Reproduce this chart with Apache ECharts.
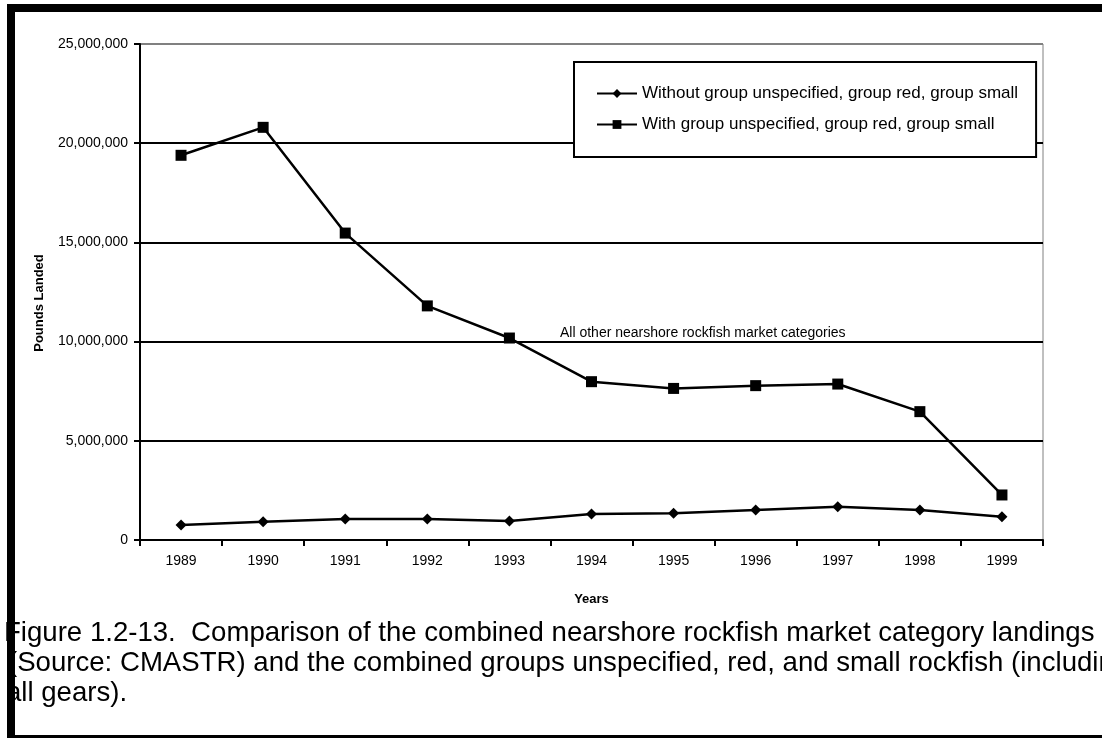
<!DOCTYPE html>
<html>
<head>
<meta charset="utf-8">
<script src="https://cdn.jsdelivr.net/npm/echarts@6/dist/echarts.min.js"></script>
<style>
  html, body { margin: 0; padding: 0; background: #fff; }
  #chart { width: 1102px; height: 740px; }
</style>
</head>
<body>
<div id="chart"></div>
<script>
// 年份（x 轴类目）
const years = ["1989", "1990", "1991", "1992", "1993", "1994", "1995", "1996", "1997", "1998", "1999"];
// 不含 unspecified / red / small 组
const withoutGroups = [760000, 920000, 1060000, 1060000, 960000, 1310000, 1350000, 1510000, 1680000, 1510000, 1170000];
// 含 unspecified / red / small 组
const withGroups = [19390000, 20800000, 15470000, 11800000, 10180000, 7980000, 7640000, 7780000, 7860000, 6470000, 2270000];

const seriesNames = [
  "Without group unspecified, group red, group small",
  "With group unspecified, group red, group small",
];
const noteText = "All other nearshore rockfish market categories";
const captionLines = [
  "Figure 1.2-13.  Comparison of the combined nearshore rockfish market category landings",
  "(Source: CMASTR) and the combined groups unspecified, red, and small rockfish (including",
  "all gears).",
];

const FONT = "'Liberation Sans', Arial, sans-serif";

function fmt(v) {
  return String(v).replace(/\B(?=(\d{3})+(?!\d))/g, ",");
}

const chart = echarts.init(document.getElementById("chart"), null, { renderer: "canvas" });

const option = {
  backgroundColor: "#fff",
  animation: false,
  textStyle: { fontFamily: FONT, color: "#000" },
  grid: {
    left: 140,
    top: 44,
    width: 903,
    height: 496,
    show: true,
    borderColor: "#808080",
    borderWidth: 1,
  },
  legend: {
    orient: "vertical",
    left: 574,
    top: 62,
    padding: [23, 18, 24, 22],
    itemGap: 14,
    itemWidth: 40,
    itemHeight: 11,
    backgroundColor: "#fff",
    borderColor: "#000",
    borderWidth: 2,
    selectedMode: false,
    textStyle: { fontSize: 17, color: "#000", fontFamily: FONT },
    data: seriesNames,
  },
  xAxis: {
    type: "category",
    data: years,
    boundaryGap: true,
    name: "Years",
    nameLocation: "middle",
    nameGap: 53,
    nameTextStyle: { fontSize: 13, fontWeight: "bold", color: "#000" },
    axisLine: { lineStyle: { color: "#000", width: 2 } },
    axisTick: { show: true, length: 6, lineStyle: { color: "#000", width: 2 } },
    axisLabel: { fontSize: 14, color: "#000", margin: 14 },
    splitLine: { show: false },
  },
  yAxis: {
    type: "value",
    min: 0,
    max: 25000000,
    interval: 5000000,
    name: "Pounds Landed",
    nameLocation: "middle",
    nameRotate: 90,
    nameGap: 94,
    nameTextStyle: { fontSize: 13, fontWeight: "bold", color: "#000", padding: [0, 22, 0, 0] },
    axisLine: { show: true, lineStyle: { color: "#000", width: 2 } },
    axisTick: { show: true, length: 6, lineStyle: { color: "#000", width: 2 } },
    axisLabel: { fontSize: 14, color: "#000", margin: 12, formatter: fmt },
    splitLine: {
      show: true,
      lineStyle: { color: ["#000", "#000", "#000", "#000", "#000", "#808080"], width: 2 },
    },
  },
  series: [
    {
      name: seriesNames[0],
      type: "line",
      data: withoutGroups,
      symbol: "diamond",
      symbolSize: 11,
      lineStyle: { color: "#000", width: 2.5 },
      itemStyle: { color: "#000" },
      z: 3,
    },
    {
      name: seriesNames[1],
      type: "line",
      data: withGroups,
      symbol: "rect",
      symbolSize: 11,
      lineStyle: { color: "#000", width: 2.5 },
      itemStyle: { color: "#000" },
      z: 3,
    },
  ],
  graphic: [
    {
      type: "text",
      left: 560,
      top: 326,
      style: { text: noteText, font: "14px " + FONT, fill: "#000" },
    },
    {
      type: "text",
      x: 4,
      y: 633,
      style: { text: captionLines[0], font: "27.6px " + FONT, fill: "#000", verticalAlign: "middle" },
    },
    {
      type: "text",
      x: 8,
      y: 663,
      style: { text: captionLines[1], font: "27.6px " + FONT, fill: "#000", verticalAlign: "middle" },
    },
    {
      type: "text",
      x: 6,
      y: 693,
      style: { text: captionLines[2], font: "27.6px " + FONT, fill: "#000", verticalAlign: "middle" },
    },
    // 页面外框
    { type: "rect", z: 100, shape: { x: 7, y: 4, width: 1095, height: 8 }, style: { fill: "#000" } },
    { type: "rect", z: 100, shape: { x: 7, y: 4, width: 8, height: 734 }, style: { fill: "#000" } },
    { type: "rect", z: 100, shape: { x: 7, y: 735, width: 1095, height: 3 }, style: { fill: "#000" } },
  ],
};

chart.setOption(option);
window.addEventListener("resize", () => chart.resize());
</script>
</body>
</html>
